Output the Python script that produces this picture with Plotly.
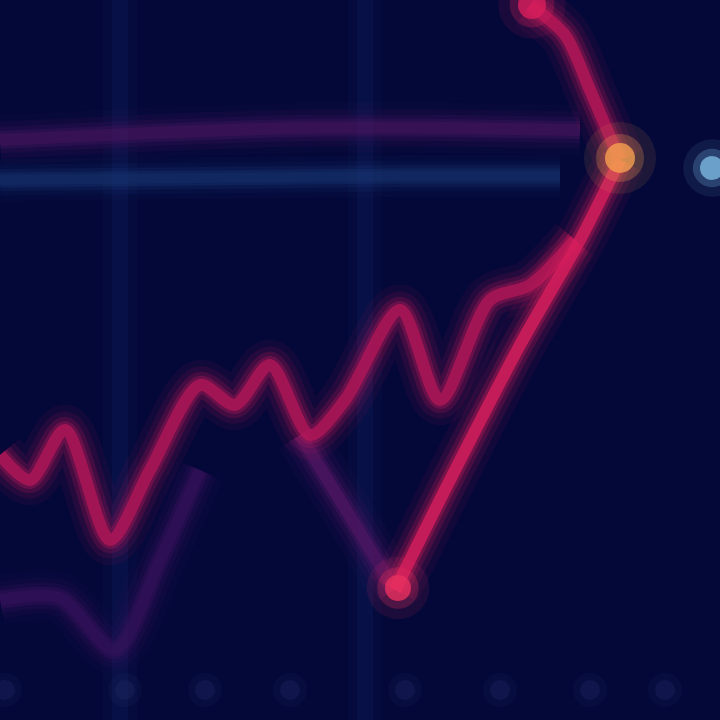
import plotly.graph_objects as go

# --- data (in image-like units; y grows downward) ---
zig_x = [0, 30, 65, 110, 150, 200, 235, 270, 310, 345, 400, 440, 490, 530, 575]
zig_y = [455, 480, 430, 540, 470, 385, 405, 365, 435, 400, 310, 400, 300, 285, 240]

dip_x = [300, 340, 395]
dip_y = [435, 500, 590]

rise_x = [395, 450, 520, 580, 620]
rise_y = [590, 480, 345, 240, 160]

top_x = [530, 565, 590, 605, 620]
top_y = [5, 35, 90, 125, 160]

hline_x = [0, 150, 300, 450, 580]
hline_y = [140, 133, 128, 128, 130]

bline_x = [0, 200, 400, 560]
bline_y = [180, 178, 176, 176]

low_x = [0, 60, 115, 160, 200]
low_y = [600, 598, 650, 560, 470]

grid_x = [120, 365]

tick_x = [5, 125, 205, 290, 405, 500, 590, 665]
tick_y = [690, 690, 690, 690, 690, 690, 690, 690]

fig = go.Figure()


def glow(x, y, color, core_w, core_op):
    layers = [(core_w * 4.2, 0.07), (core_w * 3.1, 0.12), (core_w * 2.2, 0.2),
              (core_w * 1.5, 0.3), (core_w, core_op)]
    for w, op in layers:
        fig.add_trace(go.Scatter(x=x, y=y, mode="lines",
                                 line=dict(color=color, width=w, shape="spline", smoothing=0.8),
                                 opacity=op, hoverinfo="skip", showlegend=False))


# faint vertical grid lines
for gx in grid_x:
    for w, op in [(34, 0.15), (16, 0.3)]:
        fig.add_trace(go.Scatter(x=[gx, gx], y=[0, 720], mode="lines",
                                 line=dict(color="#102060", width=w), opacity=op,
                                 hoverinfo="skip", showlegend=False))

glow(bline_x, bline_y, "#1a3a78", 10, 0.2)
glow(hline_x, hline_y, "#4a1660", 12, 0.4)
glow(low_x, low_y, "#3e1460", 12, 0.35)
glow(dip_x, dip_y, "#5a1868", 12, 0.5)
glow(zig_x, zig_y, "#c0185a", 12, 0.65)
glow(rise_x, rise_y, "#d81e5c", 12, 0.8)
glow(top_x, top_y, "#c0185a", 12, 0.7)

# glowing dots
dots = [(620, 158, "#f6a050", 30), (712, 168, "#7ab8e0", 24), (398, 588, "#e83060", 26), (532, 5, "#d81e5c", 28)]
for dx, dy, dc, ds in dots:
    for s, op in [(ds * 2.4, 0.1), (ds * 1.6, 0.25), (ds, 0.8)]:
        fig.add_trace(go.Scatter(x=[dx], y=[dy], mode="markers",
                                 marker=dict(color=dc, size=s, line=dict(width=0)),
                                 opacity=op, hoverinfo="skip", showlegend=False))

# blurred tick marks at the bottom
for s, op in [(34, 0.12), (20, 0.25)]:
    fig.add_trace(go.Scatter(x=tick_x, y=tick_y, mode="markers",
                             marker=dict(color="#2a3470", size=s, line=dict(width=0)),
                             opacity=op, hoverinfo="skip", showlegend=False))

fig.update_layout(
    width=720, height=720,
    margin=dict(l=0, r=0, t=0, b=0),
    paper_bgcolor="#040838",
    plot_bgcolor="#040838",
    xaxis=dict(range=[0, 720], visible=False, fixedrange=True),
    yaxis=dict(range=[720, 0], visible=False, fixedrange=True),
    showlegend=False,
)

fig.write_html("out.html",
               config={"displayModeBar": False, "staticPlot": True},
               post_script="document.body.style.margin='0';document.body.style.background='#040838';")
